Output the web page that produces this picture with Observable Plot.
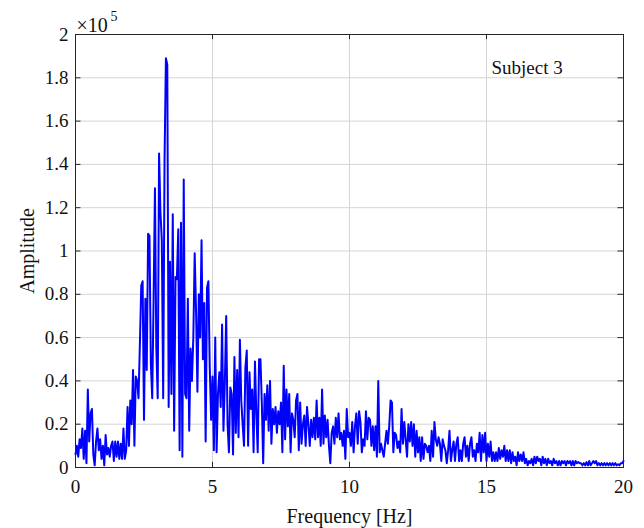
<!DOCTYPE html>
<html>
<head>
<meta charset="utf-8">
<script src="https://cdn.jsdelivr.net/npm/d3@7"></script>
<script src="https://cdn.jsdelivr.net/npm/@observablehq/plot@0.6"></script>
<style>
  html, body { margin: 0; padding: 0; background: #ffffff; }
  #chart { width: 644px; height: 528px; }
</style>
</head>
<body>
<div id="chart"></div>
<script>
// Spectral bins are spaced every 0.05 Hz from 0 to 20 Hz.
const freqStepHz = 0.05;

// Amplitude per bin, in thousands (x 1e3).
const amp0to5 = [
  6,10,5,13,9,18,4,17,2,36, 12,25,27,6,1,12,18,8,13,4,
  10,1,15,6,9,5,10,12,3,12, 5,12,4,11,4,18,4,8,28,10,
  31,20,45,10,42,40,32,57,
  84,86,22,78,45,108,107,48,32,78, 129,55,32,145,118,105,32,142,189,186,
  28,95,34,117,17,88,87,110,8,113, 5,133,34,32,78,17,55,40,60,99,
  72,35,80,60,105,50,76,12,83,86, 46,22
];
const amp5to10 = [
  42,8,60,7,34,44,28,66,17,39,
  70,20,7,37,34,6,51,16,45,14,
  59,31,20,10,46,54,10,44,27,36,
  7,49,25,7,50,50,30,2,34,22,
  38,17,40,11,27,20,28,16,26,20,
  30,7,47,13,36,19,34,7,25,22,
  14,31,34,8,30,11,20,24,10,28,
  20,10,22,14,23,13,31,14,23,10,
  36,11,24,14,22,10,2,16,19,11,
  23,14,25,13,16,10,17,4,27,14
];
const amp10to15 = [
  16,10,21,7,19,25,11,26,21,7,
  13,10,26,13,23,22,10,19,8,19,
  5,40,7,11,8,5,11,17,11,19,
  31,30,7,16,15,9,12,7,27,11,
  21,13,5,20,12,21,10,20,5,17,
  7,14,3,14,4,11,10,7,10,3,
  17,5,21,13,10,14,11,3,13,10,
  8,2,8,17,3,8,12,3,11,14,
  3,8,3,11,14,5,10,3,11,14,
  5,8,3,11,7,16,3,15,7,16
];
const amp15to20 = [
  3,11,5,12,3,7,3,7,3,9,
  4,8,5,10,3,8,3,8,2,7,
  3,5,1,7,3,6,3,7,2,4,
  1,3,2,4,1,5,2,5,3,4,
  1,5,2,4,1,4,2,3,1,4,
  2,3,1,3,1,3,2,3,1,3,
  2,3,1,3,1,3,2,2.5,2,2,
  1,2,1,2.5,1,3,1,2,3,2,
  3,1,2,1,2,1,2,1,2,1,
  2,1,2,1,2,1,1.5,1,2,2,
  3
];

const xTicks = [0, 5, 10, 15, 20];
const yTicks = [0, 20000, 40000, 60000, 80000, 100000, 120000, 140000, 160000, 180000, 200000];
const xLabel = "Frequency [Hz]";
const yLabel = "Amplitude";
const exponentBase = "\u00d710";
const exponentPower = "5";
const annotation = "Subject 3";

const amplitudeK = [...amp0to5, ...amp5to10, ...amp10to15, ...amp15to20];
const spectrum = amplitudeK.map((a, i) => ({ freq: +(i * freqStepHz).toFixed(2), amp: a * 1000 }));

const gridColor = "#d5d5d5";
const axisColor = "#262626";

const chart = Plot.plot({
  width: 644,
  height: 528,
  marginLeft: 75,
  marginRight: 21,
  marginTop: 34,
  marginBottom: 61,
  style: { fontFamily: "'Liberation Serif', 'Times New Roman', serif", fontSize: "19px", color: "#111", background: "#fff" },
  x: { domain: [0, 20] },
  y: { domain: [0, 200000] },
  marks: [
    Plot.gridX(xTicks, { stroke: gridColor, strokeOpacity: 1 }),
    Plot.gridY(yTicks, { stroke: gridColor, strokeOpacity: 1 }),
    Plot.line(spectrum, { x: "freq", y: "amp", stroke: "#0000ff", strokeWidth: 2 }),
    Plot.frame({ stroke: axisColor, strokeWidth: 1 }),
    // inward tick marks on all four sides
    Plot.ruleY(yTicks, { x1: 0, x2: 0.2, stroke: axisColor }),
    Plot.ruleY(yTicks, { x1: 20, x2: 19.8, stroke: axisColor }),
    Plot.ruleX(xTicks, { y1: 0, y2: 2400, stroke: axisColor }),
    Plot.ruleX(xTicks, { y1: 200000, y2: 197600, stroke: axisColor }),
    Plot.axisX({ ticks: xTicks, tickSize: 0, tickPadding: 12, label: null, tickFormat: d => String(d) }),
    Plot.axisY({ ticks: yTicks, tickSize: 0, tickPadding: 7, label: null, tickFormat: d => String(+(d / 1e5).toFixed(1)) }),
    Plot.text([yLabel], { text: d => d, frameAnchor: "left", dx: -48, rotate: -90, textAnchor: "middle", lineAnchor: "middle", fontSize: 20 }),
    Plot.text([xLabel], { text: d => d, frameAnchor: "bottom", dy: 55, textAnchor: "middle", lineAnchor: "bottom", fontSize: 20 }),
    Plot.text([exponentBase], { text: d => d, frameAnchor: "top-left", dx: 1, dy: -3, textAnchor: "start", lineAnchor: "bottom", fontSize: 20 }),
    Plot.text([exponentPower], { text: d => d, frameAnchor: "top-left", dx: 35, dy: -14, textAnchor: "start", lineAnchor: "bottom", fontSize: 14 }),
    Plot.text([annotation], { text: d => d, frameAnchor: "top-left", dx: 416, dy: 39, textAnchor: "start", lineAnchor: "bottom", fontSize: 19 })
  ]
});

document.getElementById("chart").appendChild(chart);
</script>
</body>
</html>
